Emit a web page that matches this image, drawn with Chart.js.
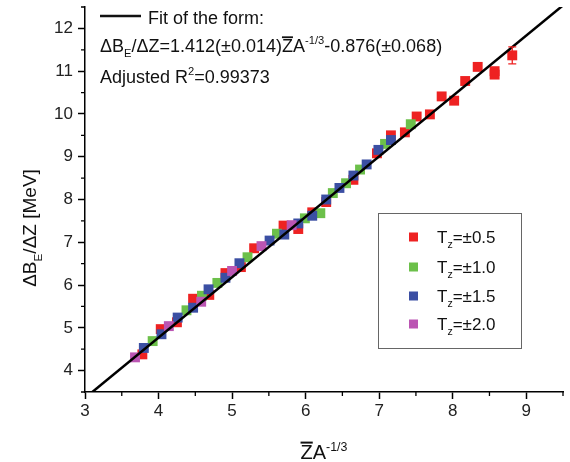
<!DOCTYPE html>
<html>
<head>
<meta charset="utf-8">
<script src="https://cdn.jsdelivr.net/npm/chart.js@4.4.0/dist/chart.umd.min.js"></script>
<style>
  html, body { margin: 0; padding: 0; background: #fff; }
</style>
</head>
<body>
<canvas id="plot" width="570" height="462"></canvas>
<script>
// binding energy difference vs Z̄A^-1/3, grouped by isospin projection
const tz05X = [3.78, 4.03, 4.25, 4.47, 4.69, 4.91, 5.12, 5.30, 5.70, 5.90, 6.09, 6.28, 6.65, 6.97, 7.16, 7.35, 7.51, 7.69, 7.85, 8.02, 8.17, 8.34, 8.57, 8.57, 8.81];
const tz05Y = [4.38, 4.97, 5.13, 5.68, 5.77, 6.28, 6.42, 6.86, 7.39, 7.31, 7.70, 7.94, 8.46, 9.08, 9.50, 9.57, 9.94, 9.99, 10.41, 10.31, 10.77, 11.10, 11.00, 10.92, 11.37];
const tz05Err = [0, 0, 0, 0, 0, 0, 0, 0, 0, 0, 0, 0, 0, 0, 0, 0, 0, 0, 0, 0, 0, 0, 0, 0, 0.2];

const tz10X = [3.92, 4.38, 4.59, 4.80, 5.21, 5.61, 5.99, 6.20, 6.37, 6.55, 6.74, 7.08, 7.43];
const tz10Y = [4.69, 5.41, 5.75, 6.05, 6.65, 7.20, 7.56, 7.68, 8.15, 8.38, 8.70, 9.30, 9.76];

const tz15X = [3.80, 4.04, 4.26, 4.47, 4.68, 4.91, 5.10, 5.51, 5.71, 5.90, 6.09, 6.28, 6.46, 6.65, 6.83, 6.99, 7.16];
const tz15Y = [4.53, 4.85, 5.24, 5.47, 5.90, 6.17, 6.51, 7.04, 7.18, 7.44, 7.62, 8.00, 8.27, 8.56, 8.82, 9.16, 9.39];

const tz20X = [3.68, 4.14, 4.58, 5.00, 5.40, 5.81];
const tz20Y = [4.31, 5.04, 5.61, 6.33, 6.91, 7.40];

const seriesNames = ['±0.5', '±1.0', '±1.5', '±2.0'];
const seriesColors = ['#ee2222', '#6cc04a', '#3b4fa3', '#bb55b3'];

// linear fit  y = a * x + b
const fitSlope = 1.412;
const fitIntercept = -0.876;
const fitX = [3, 9.5];

const FONT = '"Liberation Sans", Arial, sans-serif';

function pts(xs, ys) {
  return xs.map((x, i) => ({ x: x, y: ys[i] }));
}

function partsWidth(ctx, parts, size) {
  let w = 0;
  for (const p of parts) {
    const s = (p.sub || p.sup) ? size * 0.62 : size;
    ctx.font = s + 'px ' + FONT;
    w += ctx.measureText(p.t).width;
  }
  return w;
}

// draws text made of pieces, some of them sub/superscript or overlined
function drawRich(ctx, parts, x, y, size) {
  let cx = x;
  for (const p of parts) {
    const s = (p.sub || p.sup) ? size * 0.62 : size;
    ctx.font = s + 'px ' + FONT;
    const dy = p.sub ? size * 0.3 : (p.sup ? -size * 0.42 : 0);
    ctx.fillText(p.t, cx, y + dy);
    const w = ctx.measureText(p.t).width;
    if (p.bar) {
      ctx.save();
      ctx.lineWidth = size * 0.1;
      ctx.beginPath();
      ctx.moveTo(cx, y - size * 0.82);
      ctx.lineTo(cx + w, y - size * 0.82);
      ctx.stroke();
      ctx.restore();
    }
    cx += w;
  }
  return cx;
}

const extras = {
  id: 'extras',
  afterDatasetsDraw(chart) {
    const ctx = chart.ctx;
    const xs = chart.scales.x, ys = chart.scales.y;
    // error bars on the Tz=±0.5 set
    ctx.save();
    ctx.strokeStyle = seriesColors[0];
    ctx.lineWidth = 1.3;
    tz05X.forEach((x, i) => {
      const e = tz05Err[i];
      if (!e) return;
      const px = xs.getPixelForValue(x);
      const top = ys.getPixelForValue(tz05Y[i] + e);
      const bot = ys.getPixelForValue(tz05Y[i] - e);
      ctx.beginPath();
      ctx.moveTo(px, top); ctx.lineTo(px, bot);
      ctx.moveTo(px - 4, top); ctx.lineTo(px + 4, top);
      ctx.moveTo(px - 4, bot); ctx.lineTo(px + 4, bot);
      ctx.stroke();
    });
    ctx.restore();
  },
  afterDraw(chart) {
    const ctx = chart.ctx;
    const xs = chart.scales.x, ys = chart.scales.y;
    const area = chart.chartArea;
    ctx.save();
    // minor ticks at the half steps
    ctx.strokeStyle = '#000';
    ctx.lineWidth = 1.3;
    ctx.beginPath();
    xs.ticks.forEach(t => {
      if (Number.isInteger(t.value)) return;
      const px = xs.getPixelForValue(t.value);
      ctx.moveTo(px, area.bottom); ctx.lineTo(px, area.bottom + 4);
    });
    ys.ticks.forEach(t => {
      if (Number.isInteger(t.value)) return;
      const py = ys.getPixelForValue(t.value);
      ctx.moveTo(area.left, py); ctx.lineTo(area.left - 4, py);
    });
    ctx.stroke();

    ctx.fillStyle = '#111';
    ctx.strokeStyle = '#111';
    ctx.textBaseline = 'alphabetic';
    ctx.textAlign = 'left';

    // fit annotation
    ctx.lineWidth = 2.5;
    ctx.beginPath();
    ctx.moveTo(100, 16); ctx.lineTo(141, 16);
    ctx.stroke();
    drawRich(ctx, [{ t: 'Fit of the form:' }], 148, 24, 18);
    drawRich(ctx, [
      { t: 'ΔB' }, { t: 'E', sub: true }, { t: '/ΔZ=' + fitSlope.toFixed(3) + '(±0.014)' },
      { t: 'Z', bar: true }, { t: 'A' }, { t: '-1/3', sup: true },
      { t: fitIntercept.toFixed(3) + '(±0.068)' }
    ], 100, 52, 18);
    drawRich(ctx, [{ t: 'Adjusted R' }, { t: '2', sup: true }, { t: '=0.99373' }], 100, 83, 18);

    // axis titles
    const xt = [{ t: 'Z', bar: true }, { t: 'A' }, { t: '-1/3', sup: true }];
    const xw = partsWidth(ctx, xt, 20);
    drawRich(ctx, xt, 324 - xw / 2, 459, 20);

    const yt = [{ t: 'ΔB' }, { t: 'E', sub: true }, { t: '/ΔZ [MeV]' }];
    const yw = partsWidth(ctx, yt, 19);
    ctx.save();
    ctx.translate(36, 228);
    ctx.rotate(-Math.PI / 2);
    drawRich(ctx, yt, -yw / 2, 0, 19);
    ctx.restore();

    // legend box
    ctx.fillStyle = '#fff';
    ctx.fillRect(378, 213, 143, 135);
    ctx.strokeStyle = '#666';
    ctx.lineWidth = 1;
    ctx.strokeRect(378.5, 213.5, 143, 135);
    const rowY = [237, 267, 296, 324];
    seriesNames.forEach((name, i) => {
      ctx.fillStyle = seriesColors[i];
      ctx.fillRect(409, rowY[i] - 4.5, 9, 9);
      ctx.fillStyle = '#111';
      drawRich(ctx, [{ t: 'T' }, { t: 'z', sub: true }, { t: '=' + name }], 437, rowY[i] + 6, 17);
    });
    ctx.restore();
  }
};

function squares(label, data, color, order) {
  return {
    label: label,
    data: data,
    order: order,
    backgroundColor: color,
    borderWidth: 0,
    pointStyle: 'rect',
    pointRadius: 7,
    pointHoverRadius: 7
  };
}

const tickLabel = v => Number.isInteger(v) ? String(v) : '';

new Chart(document.getElementById('plot'), {
  type: 'scatter',
  data: {
    datasets: [
      {
        label: 'fit',
        data: fitX.map(x => ({ x: x, y: fitSlope * x + fitIntercept })),
        order: 0,
        showLine: true,
        borderColor: '#000',
        borderWidth: 2.5,
        pointRadius: 0
      },
      squares('Tz=' + seriesNames[3], pts(tz20X, tz20Y), seriesColors[3], 1),
      squares('Tz=' + seriesNames[2], pts(tz15X, tz15Y), seriesColors[2], 2),
      squares('Tz=' + seriesNames[1], pts(tz10X, tz10Y), seriesColors[1], 3),
      squares('Tz=' + seriesNames[0], pts(tz05X, tz05Y), seriesColors[0], 4)
    ]
  },
  options: {
    responsive: false,
    animation: false,
    devicePixelRatio: 1,
    layout: { padding: { top: 3, right: 4, left: 0, bottom: 0 } },
    plugins: { legend: { display: false }, tooltip: { enabled: false } },
    scales: {
      x: {
        type: 'linear',
        min: 3, max: 9.5,
        afterFit: s => { s.height = 70; s.paddingLeft = 0; s.paddingRight = 0; },
        border: { color: '#000', width: 1.5 },
        grid: {
          drawOnChartArea: false, drawTicks: true, tickLength: 7, tickWidth: 1.5,
          tickColor: c => Number.isInteger(c.tick.value) ? '#000' : 'rgba(0,0,0,0)'
        },
        ticks: {
          stepSize: 0.5, autoSkip: false, maxRotation: 0, padding: 2,
          color: '#222', font: { family: FONT, size: 17 },
          callback: tickLabel
        }
      },
      y: {
        type: 'linear',
        min: 3.5, max: 12.5,
        afterFit: s => { s.width = 85; s.paddingTop = 0; s.paddingBottom = 0; },
        border: { color: '#000', width: 1.5 },
        grid: {
          drawOnChartArea: false, drawTicks: true, tickLength: 7, tickWidth: 1.5,
          tickColor: c => Number.isInteger(c.tick.value) ? '#000' : 'rgba(0,0,0,0)'
        },
        ticks: {
          stepSize: 0.5, autoSkip: false, padding: 5,
          color: '#222', font: { family: FONT, size: 17 },
          callback: tickLabel
        }
      }
    }
  },
  plugins: [extras]
});
</script>
</body>
</html>
